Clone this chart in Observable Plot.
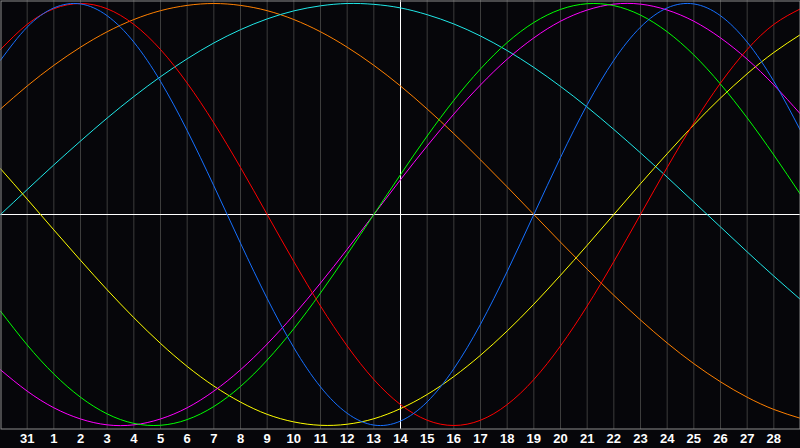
<!DOCTYPE html>
<html><head><meta charset="utf-8">
<script src="https://cdn.jsdelivr.net/npm/d3@7"></script>
<script src="https://cdn.jsdelivr.net/npm/@observablehq/plot@0.6"></script>
<style>html,body{margin:0;padding:0;background:#06060a;overflow:hidden}</style>
</head><body><div id="chart"></div>
<script>
// Day labels under grid lines 1..29 (index 0 = Dec 30, index 15 = today)
const dayLabels = ["31","1","2","3","4","5","6","7","8","9","10","11","12","13","14","15","16","17","18","19","20","21","22","23","24","25","26","27","28"];
const dayIndex = [0,1,2,3,4,5,6,7,8,9,10,11,12,13,14,15,16,17,18,19,20,21,22,23,24,25,26,27,28,29,30];
const todayIndex = 15;

// Cycle values per day (index 0..30), range -1..1
const physical = [0.731,0.888,0.979,0.998,0.942,0.817,0.631,0.398,0.136,-0.136,-0.398,-0.631,-0.817,-0.942,-0.998,-0.979,-0.888,-0.731,-0.520,-0.270,0,0.270,0.520,0.731,0.888,0.979,0.998,0.942,0.817,0.631,0.398];
const emotional = [0.782,0.901,0.975,1,0.975,0.901,0.782,0.623,0.434,0.223,0,-0.223,-0.434,-0.623,-0.782,-0.901,-0.975,-1,-0.975,-0.901,-0.782,-0.623,-0.434,-0.223,0,0.223,0.434,0.623,0.782,0.901,0.975];
const intellectual = [-0.458,-0.618,-0.756,-0.866,-0.945,-0.990,-0.999,-0.972,-0.910,-0.815,-0.690,-0.541,-0.372,-0.189,0,0.189,0.372,0.541,0.690,0.815,0.910,0.972,0.999,0.990,0.945,0.866,0.756,0.618,0.458,0.282,0.095];
const intuitive = [-0.736,-0.837,-0.916,-0.969,-0.997,-0.997,-0.969,-0.916,-0.837,-0.736,-0.614,-0.476,-0.325,-0.165,0,0.165,0.325,0.476,0.614,0.736,0.837,0.916,0.969,0.997,0.997,0.969,0.916,0.837,0.736,0.614,0.476];
const aesthetic = [0.217,0.073,-0.073,-0.217,-0.357,-0.489,-0.611,-0.720,-0.813,-0.889,-0.947,-0.983,-0.999,-0.994,-0.968,-0.920,-0.853,-0.768,-0.667,-0.552,-0.425,-0.288,-0.146,0,0.146,0.288,0.425,0.552,0.667,0.768,0.853];
const spiritual = [0,0.118,0.235,0.348,0.457,0.559,0.653,0.738,0.813,0.876,0.927,0.965,0.989,1.000,0.996,0.979,0.947,0.903,0.846,0.777,0.697,0.607,0.509,0.403,0.292,0.177,0.059,-0.059,-0.177,-0.292,-0.403];
const awareness = [0.5,0.609,0.707,0.793,0.866,0.924,0.966,0.991,1,0.991,0.966,0.924,0.866,0.793,0.707,0.609,0.5,0.383,0.259,0.131,0,-0.131,-0.259,-0.383,-0.5,-0.609,-0.707,-0.793,-0.866,-0.924,-0.966];

const seriesNames = ["awareness","spiritual","aesthetic","intuitive","intellectual","emotional","physical"];
const seriesValues = {physical, emotional, intellectual, intuitive, aesthetic, spiritual, awareness};
const seriesColors = {physical:"#1670ff", emotional:"#ff0000", intellectual:"#00ff00", intuitive:"#ff00ff", aesthetic:"#ffff00", spiritual:"#20e8e8", awareness:"#ff8000"};

const rows = seriesNames.flatMap(name => dayIndex.map((d, i) => ({series: name, day: d, value: seriesValues[name][i]})));
const gridDays = dayIndex.slice(1, 30);

const chart = Plot.plot({
  width: 800,
  height: 448,
  marginTop: 0, marginLeft: 0, marginRight: 0, marginBottom: 19,
  style: {background: "#06060a", overflow: "visible"},
  x: {domain: [0, 30], range: [0, 800]},
  y: {domain: [-1, 1], range: [425, 3], axis: null},
  marks: [
    Plot.ruleX(gridDays, {x: d => d, stroke: "#3c3c3c", strokeWidth: 1}),
    Plot.ruleY([0], {stroke: "#ffffff", strokeWidth: 1}),
    Plot.ruleX([todayIndex], {stroke: "#ffffff", strokeWidth: 1}),
    ...seriesNames.map(name => Plot.line(rows.filter(r => r.series === name), {
      x: "day", y: "value", curve: "natural", stroke: seriesColors[name], strokeWidth: 1
    })),
    Plot.frame({stroke: "#8c8c8c", strokeWidth: 1, inset: 0.5}),
    Plot.axisX(gridDays, {
      tickSize: 0, tickPadding: 4, tickFormat: d => dayLabels[d - 1],
      fill: "#ffffff", fontSize: 13, fontWeight: "bold", fontFamily: "Liberation Sans, Arial, sans-serif", label: null
    })
  ]
});
document.getElementById("chart").appendChild(chart);
</script>
</body></html>
